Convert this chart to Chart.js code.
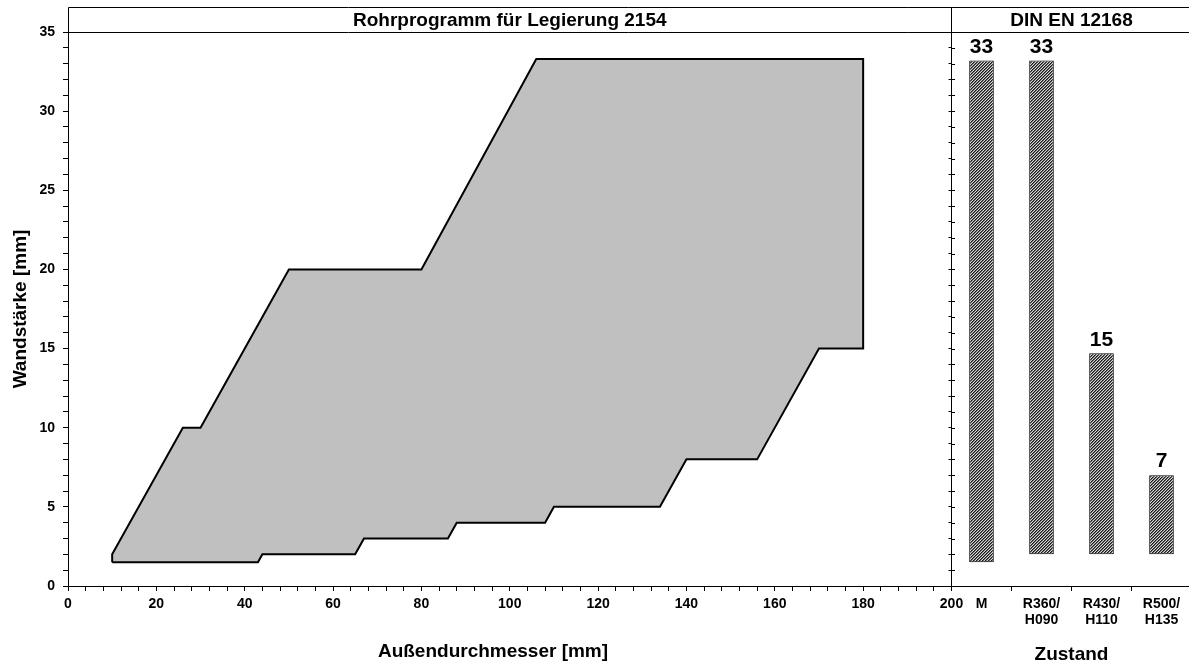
<!DOCTYPE html>
<html><head><meta charset="utf-8">
<script src="https://cdn.jsdelivr.net/npm/chart.js@4.4.1/dist/chart.umd.min.js"></script>
<style>
html,body{margin:0;padding:0;background:#fff;overflow:hidden;}
#wrap{position:relative;width:1189px;height:666px;overflow:hidden;background:#fff;}
#c1{position:absolute;left:0;top:0;}
#c2{position:absolute;left:900px;top:0;}
</style></head><body>
<div id="wrap">
<canvas id="c1" width="1189" height="666"></canvas>
<canvas id="c2" width="300" height="666"></canvas>
</div>
<script>
// ---- data ----
const outlineX = [10, 10, 26, 30, 50, 80, 106, 180, 180, 170, 156, 140, 134, 110, 108, 88, 86, 67, 65, 44, 43, 10];
const outlineY = [1.5, 2, 10, 10, 20, 20, 33.3, 33.3, 15, 15, 8, 8, 5, 5, 4, 4, 3, 3, 2, 2, 1.5, 1.5];
const conditions = ['M', ['R360/', 'H090'], ['R430/', 'H110'], ['R500/', 'H135']];
const barMin = [1.5, 2, 2, 2];
const barMax = [33.2, 33.2, 14.7, 7];
const barLabels = ['33', '33', '15', '7'];
const mainTitle = 'Rohrprogramm für Legierung 2154';
const sideTitle = 'DIN EN 12168';
const xTitle = 'Außendurchmesser [mm]';
const yTitle = 'Wandstärke [mm]';
const sideXTitle = 'Zustand';

const FONT = "'Liberation Sans', Arial, sans-serif";
Chart.defaults.font.family = FONT;
Chart.defaults.color = '#000';

// hatch pattern
function makeHatch() {
  const c = document.createElement('canvas');
  c.width = 3; c.height = 3;
  const g = c.getContext('2d');
  const img = g.createImageData(3, 3);
  const shades = [25, 105, 215];
  for (let y = 0; y < 3; y++) for (let x = 0; x < 3; x++) {
    const v = shades[(x + y) % 3];
    const i = (y * 3 + x) * 4;
    img.data[i] = v; img.data[i + 1] = v; img.data[i + 2] = v; img.data[i + 3] = 255;
  }
  g.putImageData(img, 0, 0);
  return document.getElementById('c2').getContext('2d').createPattern(c, 'repeat');
}

const framePlugin = {
  id: 'frame',
  afterDraw(chart) {
    const ctx = chart.ctx;
    const a = chart.chartArea;
    ctx.save();
    ctx.strokeStyle = '#000';
    ctx.lineWidth = 1;
    ctx.beginPath();
    ctx.moveTo(68.5, 7.5); ctx.lineTo(1189, 7.5);
    ctx.moveTo(68.5, 32.5); ctx.lineTo(1189, 32.5);
    ctx.moveTo(68.5, 7.5); ctx.lineTo(68.5, 32.5);
    ctx.moveTo(951.5, 7.5); ctx.lineTo(951.5, a.bottom);
    ctx.stroke();
    ctx.fillStyle = '#000';
    ctx.font = 'bold 19px ' + FONT;
    ctx.textAlign = 'center';
    ctx.textBaseline = 'middle';
    ctx.fillText(mainTitle, (a.left + a.right) / 2, 20.5);
    ctx.fillText(sideTitle, 1071.5, 20.5);
    ctx.fillText(xTitle, 493, 652);
    ctx.restore();
  }
};

const tickFont = {size: 14, weight: 'bold'};

new Chart(document.getElementById('c1'), {
  type: 'scatter',
  data: {
    datasets: [{
      data: outlineX.map((x, i) => ({x: x, y: outlineY[i]})),
      showLine: true,
      fill: 'shape',
      backgroundColor: '#c0c0c0',
      borderColor: '#000',
      borderWidth: 2,
      pointRadius: 0,
      tension: 0,
      borderJoinStyle: 'miter'
    }]
  },
  options: {
    responsive: false,
    animation: false,
    events: [],
    layout: {padding: {top: 32, right: 1189 - 951.5, left: 0, bottom: 0}},
    plugins: {legend: {display: false}, tooltip: {enabled: false}},
    scales: {
      x: {
        type: 'linear', min: 0, max: 200,
        ticks: {stepSize: 4, autoSkip: false, maxRotation: 0, padding: 5, font: tickFont, color: '#000',
          callback: v => (v % 20 === 0 ? String(v) : '')},
        grid: {drawOnChartArea: false, color: '#000', tickLength: 5},
        border: {color: '#000', width: 1},
        afterFit(s) { s.height = 80; s.paddingLeft = 0; s.paddingRight = 0; }
      },
      y: {
        min: 0, max: 35,
        ticks: {stepSize: 1, autoSkip: false, padding: 8, font: tickFont, color: '#000',
          callback: v => (v % 5 === 0 ? String(v) : '')},
        grid: {drawOnChartArea: false, color: '#000', tickLength: 5},
        border: {color: '#000', width: 1},
        title: {display: true, text: yTitle, color: '#000', font: {size: 19, weight: 'bold'}, padding: {top: 9, bottom: 0}},
        afterFit(s) { s.width = 68; s.paddingTop = 0; s.paddingBottom = 0; }
      }
    }
  },
  plugins: [framePlugin]
});

const barPlugin = {
  id: 'barLabels',
  afterDraw(chart) {
    const ctx = chart.ctx;
    const meta = chart.getDatasetMeta(0);
    const ys = chart.scales.y;
    ctx.save();
    ctx.strokeStyle = '#000';
    ctx.lineWidth = 1;
    ctx.beginPath();
    for (let v = 0; v <= 35; v++) {
      const py = Math.round(ys.getPixelForValue(v)) + 0.5;
      ctx.moveTo(ys.right, py); ctx.lineTo(ys.right + 3.5, py);
    }
    ctx.stroke();
    ctx.fillStyle = '#000';
    ctx.font = 'bold 21px ' + FONT;
    ctx.textAlign = 'center';
    ctx.textBaseline = 'bottom';
    meta.data.forEach((el, i) => {
      const top = Math.min(el.y, el.base);
      ctx.fillText(barLabels[i], el.x, top - 3);
    });
    ctx.restore();
  }
};

new Chart(document.getElementById('c2'), {
  type: 'bar',
  data: {
    labels: conditions,
    datasets: [{
      data: barMin.map((v, i) => [v, barMax[i]]),
      backgroundColor: makeHatch(),
      borderColor: '#000',
      borderWidth: 1,
      borderSkipped: false,
      categoryPercentage: 1,
      barPercentage: 0.41
    }]
  },
  options: {
    responsive: false,
    animation: false,
    events: [],
    layout: {padding: {top: 32, right: 8.5, left: 0, bottom: 0}},
    plugins: {legend: {display: false}, tooltip: {enabled: false}},
    scales: {
      x: {
        type: 'category',
        ticks: {autoSkip: false, maxRotation: 0, padding: 5, font: {size: 14, weight: 'bold', lineHeight: 1.15}, color: '#000'},
        grid: {drawOnChartArea: false, offset: true, color: '#000', tickLength: 5},
        border: {color: '#000', width: 1},
        title: {display: true, text: sideXTitle, color: '#000', font: {size: 19, weight: 'bold'}, padding: {top: 1, bottom: 0}},
        afterFit(s) { s.height = 80; s.paddingLeft = 0; s.paddingRight = 0; }
      },
      y: {
        min: 0, max: 35,
        ticks: {stepSize: 1, autoSkip: false, display: false},
        grid: {drawOnChartArea: false, color: '#000', tickLength: 3},
        border: {color: '#000', width: 1},
        afterFit(s) { s.width = 51.5; s.paddingTop = 0; s.paddingBottom = 0; }
      }
    }
  },
  plugins: [barPlugin]
});
</script>
</body></html>
